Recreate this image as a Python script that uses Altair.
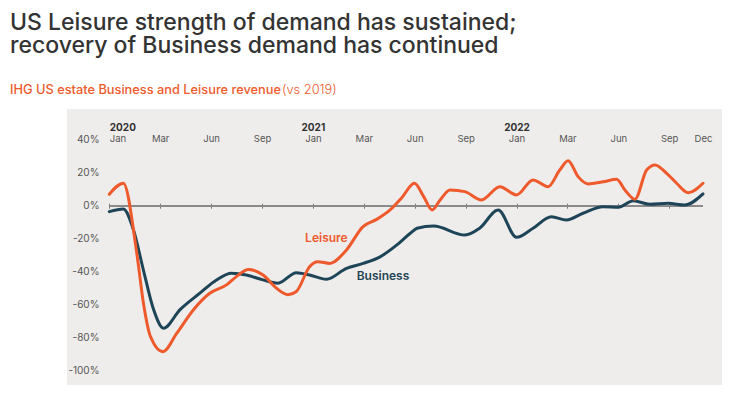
import altair as alt
import pandas as pd

# ---- data (month index: 0 = Jan 2020) ----
leisure_month = [0, 0.55, 1.08, 1.34, 1.61, 2.16, 2.98, 3.95, 4.92, 5.91, 6.49, 7.2, 8.08, 9.13, 10.04,
                 10.7, 11.74, 12.2, 12.66, 13.32, 13.97, 14.76, 15.55, 16.25, 16.98, 17.53, 18.02, 18.5,
                 19.08, 19.96, 21.25, 22.69, 24.0, 24.65, 25.24, 25.7, 26.04, 26.63, 27.22, 28.11, 28.9,
                 29.39, 29.98, 30.67, 31.16, 31.85, 32.66, 33.69, 35]
leisure_value = [6.9, 13.6, -28.8, -59, -79, -88.5, -77.3, -63.2, -53.1, -48, -43, -38.7, -42, -50, -54,
                 -52, -37, -34, -35, -26.8, -12.7, -8.3, -2.6, 5, 13.6, 5.5, -2.6, 3.5,
                 9.5, 8.5, 3.5, 11.5, 6.5, 15.6, 11.5, 21.6, 27.3, 17.6, 13.2, 14.5, 16,
                 9.5, 3.9, 21.6, 24.7, 19.6, 13.6, 7.9, 13.6]

business_month = [0, 0.55, 0.95, 1.34, 1.74, 2.19, 3.17, 4.34, 5.32, 6.2, 7.08, 8.08, 9.25, 10.7, 11.74,
                  12.53, 13.32, 13.97, 14.96, 15.95, 16.74, 17.14, 18.11, 19.96, 21.1, 22.56, 24.0, 24.65,
                  25.37, 25.96, 26.92, 28.11, 29.0, 29.88, 30.86, 31.94, 33.39, 35]
business_value = [-3.6, -2, -14.7, -39, -63, -74.3, -63, -53, -45, -41, -42, -45, -47, -40.6, -42,
                  -44.6, -38, -35, -31, -23.8, -16.7, -13.7, -12.3, -17.8, -13.7, -2.6, -19.2, -13.7,
                  -6.7, -8.7, -4.6, -0.6, -1, 3, 0.8, 1.4, 0.4, 7.1]

tick_months = [0, 2, 5, 8, 12, 14, 17, 20, 24, 26, 29, 32, 35]
tick_labels = ["Jan", "Mar", "Jun", "Sep", "Jan", "Mar", "Jun", "Sep", "Jan", "Mar", "Jun", "Sep", "Dec"]
year_months = [0, 12, 24]
year_labels = ["2020", "2021", "2022"]
y_ticks = [40, 20, 0, -20, -40, -60, -80, -100]

series_names = ["Leisure", "Business"]
label_month = [12.53, 15.13]
label_value = [-19.8, -42.6]

title_text = "US Leisure strength of demand has sustained;\nrecovery of Business demand has continued"
subtitle_main = "IHG US estate Business and Leisure revenue"
subtitle_note = "(vs 2019)"

# ---- styling ----
ORANGE = "#EE5A2B"
DARK = "#1E4557"
BG = "#EFEDEB"
FONT = "Inter"

W, H = 655, 276
x_range = [42.3 + 50.9 * i for i in range(12)] + [636]
xscale = alt.Scale(domain=tick_months, range=x_range)
yscale = alt.Scale(domain=[-108.7, 58.6], nice=False, zero=False)

leisure_df = pd.DataFrame({"month": leisure_month, "value": leisure_value, "series": "Leisure"})
business_df = pd.DataFrame({"month": business_month, "value": business_value, "series": "Business"})
labels_df = pd.DataFrame({"month": label_month, "value": label_value, "series": series_names})
years_df = pd.DataFrame({"month": year_months})
ticks_df = pd.DataFrame({"month": tick_months})

yaxis = alt.Axis(values=y_ticks, labelExpr="datum.value + '%'", title=None, orient="left",
                 offset=-32, domain=False, ticks=False, tickSize=0, grid=False, labelPadding=0,
                 labelFont=FONT, labelFontSize=10, labelColor="#555555")

tick_arr = "[" + ",".join(str(m) for m in tick_months) + "]"
lab_arr = "[" + ",".join("'" + t + "'" for t in tick_labels) + "]"
month_axis = alt.Axis(values=tick_months, orient="top", offset=-99.2, title=None,
                      labelExpr=f"{lab_arr}[indexof({tick_arr}, datum.value)]",
                      domain=False, grid=False, tickSize=5, tickColor="#777777", tickWidth=1,
                      tickOpacity={"condition": {"test": "datum.value === 35", "value": 0}, "value": 1},
                      labelAlign={"condition": {"test": "datum.value === 0", "value": "left"}, "value": "center"},
                      labelFlush=False, labelPadding=60, labelFont=FONT, labelFontSize=9.5,
                      labelColor="#555555")

ymonths = "[" + ",".join(str(m) for m in year_months) + "]"
ylabs = "[" + ",".join("'" + t + "'" for t in year_labels) + "]"
year_axis = alt.Axis(values=year_months, orient="top", offset=-99.2, title=None,
                     labelExpr=f"{ylabs}[indexof({ymonths}, datum.value)]",
                     domain=False, grid=False, ticks=False, tickSize=0,
                     labelAlign={"condition": {"test": "datum.value === 0", "value": "left"}, "value": "center"},
                     labelFlush=False, labelPadding=76, labelFont=FONT, labelFontSize=10,
                     labelFontWeight="bold", labelColor="#333333")

color = alt.Color("series:N", scale=alt.Scale(domain=series_names, range=[ORANGE, DARK]), legend=None)

zero_line = alt.Chart(ticks_df).mark_rule(color="#8a8a8a", strokeWidth=1.5).encode(
    x=alt.datum(0, scale=xscale, axis=None),
    x2=alt.datum(35),
    y=alt.datum(0, scale=yscale, axis=yaxis),
)

business = alt.Chart(business_df).mark_line(interpolate="monotone", strokeWidth=3, strokeCap="round").encode(
    x=alt.X("month:Q", scale=xscale, axis=month_axis),
    y=alt.Y("value:Q", scale=yscale, axis=yaxis),
    color=color,
)

leisure = alt.Chart(leisure_df).mark_line(interpolate="monotone", strokeWidth=3, strokeCap="round").encode(
    x=alt.X("month:Q", scale=xscale, axis=None),
    y=alt.Y("value:Q", scale=yscale, axis=yaxis),
    color=color,
)

years = alt.Chart(years_df).mark_point(opacity=0).encode(
    x=alt.X("month:Q", scale=xscale, axis=year_axis),
)

series_labels = alt.Chart(labels_df).mark_text(font=FONT, fontSize=12, fontWeight=600).encode(
    x=alt.X("month:Q", scale=xscale, axis=None),
    y=alt.Y("value:Q", scale=yscale, axis=yaxis),
    text="series:N",
    color=color,
)

title = alt.Chart(pd.DataFrame({"t": [title_text]})).mark_text(
    font=FONT, fontSize=23, fontWeight=500, color="#333333", align="left", baseline="alphabetic",
    lineBreak="\n", lineHeight=23.3,
).encode(text="t:N", x=alt.value(-57), y=alt.value(-79))

sub1 = alt.Chart(pd.DataFrame({"t": [subtitle_main]})).mark_text(
    font=FONT, fontSize=12.8, fontWeight=500, color=ORANGE, align="left", baseline="alphabetic",
).encode(text="t:N", x=alt.value(-57), y=alt.value(-15))

sub2 = alt.Chart(pd.DataFrame({"t": [subtitle_note]})).mark_text(
    font=FONT, fontSize=12.8, fontWeight=300, color=ORANGE, align="left", baseline="alphabetic",
).encode(text="t:N", x=alt.value(215), y=alt.value(-15))

chart = alt.layer(zero_line, business, leisure, years, series_labels, title, sub1, sub2).resolve_axis(
    x="independent"
).properties(
    width=W, height=H,
    autosize=alt.AutoSizeParams(type="none"),
    padding={"left": 59, "top": 101, "right": 0, "bottom": 0},
).configure_view(fill=BG, stroke=None)

chart.save("out.html", embed_options={"renderer": "svg", "actions": False})
